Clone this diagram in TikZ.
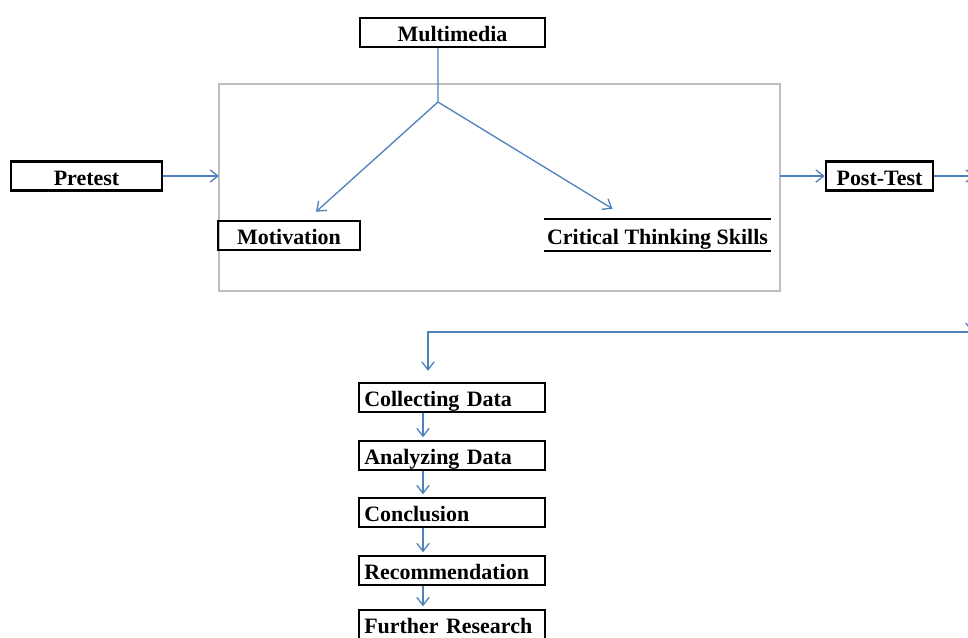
\documentclass[tikz,border=0pt]{standalone}
\usepackage{fontspec}
\setmainfont{Liberation Serif}
\usetikzlibrary{arrows.meta}

\definecolor{bleu}{RGB}{79,129,189}
\definecolor{gris}{RGB}{190,190,190}

\tikzset{
  boite/.style={draw, line width=1.4pt, inner sep=0pt, minimum height=0.58cm,
    text height=11pt, text depth=0.2pt,
    font=\bfseries\fontsize{12.5}{14}\selectfont},
  etape/.style={boite, inner xsep=3pt, text width=3.72cm-6pt, align=left},
  cadre/.style={draw=gris, line width=0.8pt, inner sep=0pt, outer sep=0pt},
  fleche/.style={draw=bleu, line width=0.75pt, -{Straight Barb[length=4.5pt,width=7pt]}}
}

\begin{document}
\begin{tikzpicture}[x=0.02cm, y=-0.02cm]

\useasboundingbox (0,0) rectangle (968,637);
\clip (0,0) rectangle (968,637);

% Le cadre central
\node[cadre, minimum width=11.22cm, minimum height=4.14cm] (cadre) at (499.5,187.5) {};

% Les boites du haut
\node[boite, minimum width=3.7cm] (multimedia) at (452.5,32.5) {Multimedia};
\node[boite, minimum width=3.02cm] (pretest) at (86.5,176) {Pretest};
\node[boite, minimum width=2.84cm] (motivation) at (289,235.5) {Motivation};
\node[boite, draw=none, minimum width=4.5cm, minimum height=0.6cm] (critique) at (657.5,235) {Critical Thinking Skills};
\draw[line width=1.4pt] (critique.north west) -- (critique.north east);
\draw[line width=1.4pt] (critique.south west) -- (critique.south east);
\node[boite, minimum width=2.14cm] (posttest) at (879.5,176) {Post-Test};

% Les etapes
\node[etape] (collecte) at (452,397.5) {Collecting Data};
\node[etape] (analyse) at (452,455.5) {Analyzing Data};
\node[etape] (conclusion) at (452,512.5) {Conclusion};
\node[etape] (recommandation) at (452,570.5) {Recommendation};
\node[etape] (recherche) at (452,624.5) {Further Research};

% Points hors cadre
\coordinate (fourche) at (438,102);
\coordinate (sortie) at (975,176);
\coordinate (retour) at (972,332);

% Les fleches
\draw[draw=bleu, line width=0.75pt] ([xshift=-0.29cm]multimedia.south) -- (fourche);
\draw[fleche] (fourche) -- ([xshift=0.54cm,yshift=0.16cm]motivation.north);
\draw[fleche] (fourche) -- ([xshift=-0.9cm,yshift=0.2cm]critique.north);
\draw[fleche] (pretest.east) -- (pretest.east -| cadre.west);
\draw[fleche] (cadre.east |- posttest.west) -- (posttest.west);
\draw[fleche] (posttest.east) -- (sortie);
\draw[fleche] ([yshift=2cm]retour) -- (retour);
\draw[fleche] (retour) -| ([xshift=-0.48cm,yshift=0.22cm]collecte.north);

\draw[fleche] ([xshift=-0.58cm]collecte.south) -- ([xshift=-0.58cm,yshift=0.05cm]analyse.north);
\draw[fleche] ([xshift=-0.58cm]analyse.south) -- ([xshift=-0.58cm,yshift=0.05cm]conclusion.north);
\draw[fleche] ([xshift=-0.58cm]conclusion.south) -- ([xshift=-0.58cm,yshift=0.05cm]recommandation.north);
\draw[fleche] ([xshift=-0.58cm]recommandation.south) -- ([xshift=-0.58cm,yshift=0.05cm]recherche.north);

\end{tikzpicture}
\end{document}
